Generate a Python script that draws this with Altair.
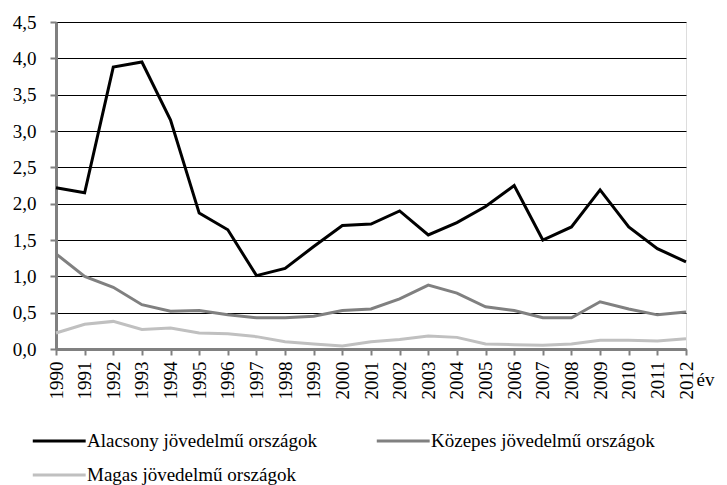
import altair as alt
import pandas as pd

years = [str(y) for y in range(1990, 2013)]
alacsony = [2.22, 2.15, 3.88, 3.95, 3.15, 1.87, 1.64, 1.01, 1.11, 1.41, 1.70, 1.72,
            1.90, 1.57, 1.74, 1.96, 2.25, 1.50, 1.68, 2.19, 1.68, 1.38, 1.20]
kozepes = [1.31, 1.00, 0.85, 0.61, 0.52, 0.53, 0.47, 0.43, 0.43, 0.45, 0.53, 0.55,
           0.69, 0.88, 0.77, 0.58, 0.53, 0.43, 0.43, 0.65, 0.55, 0.47, 0.51]
magas = [0.22, 0.34, 0.38, 0.27, 0.29, 0.22, 0.21, 0.17, 0.10, 0.07, 0.04, 0.10,
         0.13, 0.18, 0.16, 0.07, 0.06, 0.05, 0.07, 0.12, 0.12, 0.11, 0.14]
series_names = ["Alacsony jövedelmű országok", "Közepes jövedelmű országok",
                "Magas jövedelmű országok"]
series_colors = ["#000000", "#808080", "#c0c0c0"]
y_ticks = [0, 0.5, 1, 1.5, 2, 2.5, 3, 3.5, 4, 4.5]

rows = []
for name, vals in zip(series_names, [alacsony, kozepes, magas]):
    for y, v in zip(years, vals):
        rows.append({"ev": y, "ertek": v, "sorozat": name})
df = pd.DataFrame(rows)

FONT = "Liberation Serif, Times New Roman, DejaVu Serif, serif"

chart = alt.Chart(df).mark_line(strokeWidth=3).encode(
    x=alt.X("ev:O", sort=years,
            scale=alt.Scale(type="point", padding=0),
            axis=alt.Axis(title="év", titleAngle=0, titleX=640, titleY=30,
                          titleAlign="left", titleBaseline="middle",
                          titleFont=FONT, titleFontSize=19, titleFontWeight="normal",
                          titleColor="#000000",
                          labelAngle=270, labelFont=FONT, labelFontSize=19,
                          labelColor="#000000", labelPadding=6,
                          tickSize=6, tickColor="#808080", tickWidth=2,
                          domainColor="#808080", domainWidth=3, grid=False)),
    y=alt.Y("ertek:Q", scale=alt.Scale(domain=[0, 4.5], nice=False),
            axis=alt.Axis(title=None, values=y_ticks,
                          labelExpr="replace(format(datum.value, '.1f'), '.', ',')",
                          labelFont=FONT, labelFontSize=19, labelColor="#000000",
                          labelPadding=14, tickSize=6, tickColor="#808080", tickWidth=2,
                          domainColor="#808080", domainWidth=3,
                          grid=True, gridColor="#000000", gridWidth=1)),
    color=alt.Color("sorozat:N",
                    scale=alt.Scale(domain=series_names, range=series_colors),
                    legend=alt.Legend(title=None, orient="none", legendX=-25, legendY=404,
                                      columns=2, direction="horizontal",
                                      symbolType="M-1,0H3", symbolSize=700,
                                      symbolStrokeWidth=3, labelOffset=26,
                                      labelFont=FONT, labelFontSize=19,
                                      labelColor="#000000", columnPadding=52,
                                      rowPadding=9, padding=0, labelLimit=400)),
).properties(
    width=630, height=327,
    padding={"left": 4, "top": 5, "right": 5, "bottom": 5},
).configure_view(
    stroke="#808080", strokeWidth=2
).configure(font=FONT)

chart.save("out.html", embed_options={"renderer": "svg", "actions": False})
